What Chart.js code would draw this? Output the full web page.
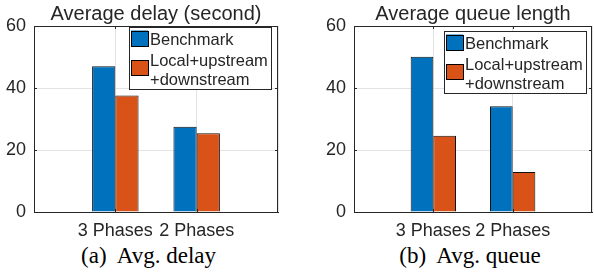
<!DOCTYPE html>
<html>
<head>
<meta charset="utf-8">
<script src="https://cdn.jsdelivr.net/npm/chart.js@4/dist/chart.umd.min.js"></script>
<style>
  html, body { margin: 0; padding: 0; background: #fff; overflow: hidden; }
  body { width: 594px; height: 275px; position: relative; }
  .plot { position: absolute; top: 0; height: 240px; }
  .caption {
    position: absolute; top: 244px; transform: translateX(-50%);
    font: 23px/1 "Liberation Serif", "Times New Roman", serif; color: #000; white-space: pre;
  }
</style>
</head>
<body>
<div class="plot" style="left:0;width:297px"><canvas id="delay"></canvas></div>
<div class="plot" style="left:297px;width:303px"><canvas id="queue"></canvas></div>
<div class="caption" style="left:148.5px">(a)  Avg. delay</div>
<div class="caption" style="left:470px">(b)  Avg. queue</div>
<script>
  const categories = ["3 Phases", "2 Phases"];
  const seriesNames = [["Benchmark"], ["Local+upstream", "+downstream"]];
  const delayBenchmark = [47.0, 27.5];
  const delayLocal = [37.6, 25.4];
  const queueBenchmark = [50.1, 34.1];
  const queueLocal = [24.6, 12.9];
  const yTicks = [0, 20, 40, 60];

  const SANS = '"Liberation Sans", Arial, Helvetica, sans-serif';
  const INK = "#262626";
  const COLORS = ["#0072BD", "#D95319"];

  // MATLAB-style box: top/right border and inward tick marks
  const axesBox = {
    id: "axesBox",
    afterDatasetsDraw(chart) {
      const { ctx, chartArea: a, scales } = chart;
      ctx.save();
      ctx.strokeStyle = INK;
      ctx.lineWidth = 1;
      ctx.beginPath();
      ctx.moveTo(a.left, a.top + 0.5);
      ctx.lineTo(a.right, a.top + 0.5);
      ctx.moveTo(a.right - 0.5, a.top);
      ctx.lineTo(a.right - 0.5, a.bottom);
      scales.y.ticks.forEach((t) => {
        const y = Math.round(scales.y.getPixelForValue(t.value)) + 0.5;
        ctx.moveTo(a.left, y);
        ctx.lineTo(a.left + 3, y);
        ctx.moveTo(a.right, y);
        ctx.lineTo(a.right - 3, y);
      });
      categories.forEach((c, i) => {
        const x = Math.round(scales.x.getPixelForValue(i + 1)) + 0.5;
        ctx.moveTo(x, a.bottom);
        ctx.lineTo(x, a.bottom - 3);
        ctx.moveTo(x, a.top);
        ctx.lineTo(x, a.top + 3);
      });
      ctx.stroke();
      ctx.restore();
    },
  };

  const boxLegend = {
    id: "boxLegend",
    afterDraw(chart, args, o) {
      const { ctx, chartArea: a } = chart;
      const rows = chart.data.datasets.map((d) => d.label.split("\n"));
      ctx.save();
      ctx.font = "16.5px " + SANS;
      const textW = Math.max(...rows.flat().map((t) => ctx.measureText(t).width));
      const w = Math.round(21 + textW + 3);
      const h = 62;
      const x = Math.round(a.right + o.dx - w);
      const y = Math.round(a.top + o.dy);
      ctx.fillStyle = "#fff";
      ctx.fillRect(x, y, w, h);
      ctx.strokeStyle = INK;
      ctx.lineWidth = 1;
      ctx.strokeRect(x + 0.5, y + 0.5, w, h);
      const patchTop = [3.5, 33];
      const baselines = [[17.7], [38.7, 57.7]];
      rows.forEach((lines, i) => {
        ctx.fillStyle = chart.data.datasets[i].backgroundColor;
        ctx.fillRect(x + 2, y + patchTop[i], 17, 15.5);
        ctx.strokeStyle = "#000";
        ctx.strokeRect(x + 2.5, Math.round(y + patchTop[i]) + 0.5, 17, 15);
        ctx.fillStyle = INK;
        ctx.textBaseline = "alphabetic";
        lines.forEach((t, j) => ctx.fillText(t, x + 21, y + baselines[i][j]));
      });
      ctx.restore();
    },
  };

  function makeChart(id, title, bench, local, lay) {
    const labels = ["", ...categories, ""];
    return new Chart(document.getElementById(id), {
      type: "bar",
      data: {
        labels,
        datasets: [bench, local].map((vals, i) => ({
          label: seriesNames[i].join("\n"),
          data: [null, ...vals, null],
          backgroundColor: COLORS[i],
          borderColor: "#111",
          borderWidth: 1,
          categoryPercentage: 2 / 3.5,
          barPercentage: 1,
        })),
      },
      options: {
        responsive: true,
        maintainAspectRatio: false,
        animation: false,
        layout: { padding: { left: 0, right: lay.padRight, top: 0, bottom: 0 } },
        plugins: {
          legend: { display: false },
          tooltip: { enabled: false },
          title: {
            display: true,
            text: title,
            fullSize: false,
            color: INK,
            font: { family: SANS, size: 20, weight: "normal", lineHeight: 1.2 },
            padding: { top: 2, bottom: 0 },
          },
          boxLegend: { dx: lay.legendDx, dy: lay.legendDy },
        },
        scales: {
          x: {
            offset: false,
            grid: { offset: false, color: "#e3e3e3", drawTicks: false },
            border: { color: INK },
            ticks: {
              autoSkip: false,
              maxRotation: 0,
              padding: 8,
              color: INK,
              font: { family: SANS, size: 18 },
            },
            afterFit(s) { s.height = 28; },
          },
          y: {
            min: yTicks[0],
            max: yTicks[yTicks.length - 1],
            afterBuildTicks(s) { s.ticks = yTicks.map((v) => ({ value: v })); },
            grid: { color: "#e3e3e3", drawTicks: false },
            border: { color: INK },
            ticks: { padding: 8, color: INK, font: { family: SANS, size: 18 } },
            afterFit(s) { s.width = lay.axisWidth; },
          },
        },
      },
      plugins: [axesBox, boxLegend],
    });
  }

  makeChart("delay", "Average delay (second)", delayBenchmark, delayLocal,
    { axisWidth: 34, padRight: 19, legendDx: -7.3, legendDy: 1.3 });
  makeChart("queue", "Average queue length", queueBenchmark, queueLocal,
    { axisWidth: 57, padRight: 3, legendDx: -6, legendDy: 5 });
</script>
</body>
</html>
